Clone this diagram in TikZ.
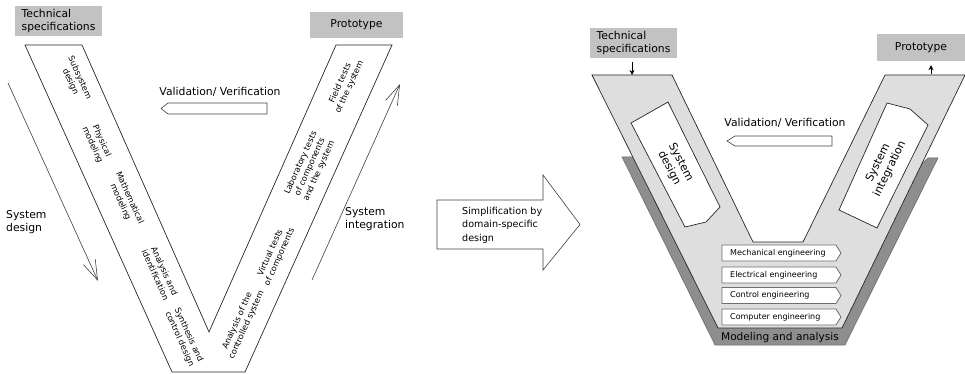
\documentclass[tikz,border=0pt]{standalone}
\usepackage{fontspec}
\setmainfont{DejaVu Sans}
\usetikzlibrary{arrows.meta,calc}
\definecolor{boxgray}{HTML}{C2C2C2}
\definecolor{vlight}{HTML}{DEDEDE}
\definecolor{vdark}{HTML}{8E8E8E}
\definecolor{tagline}{HTML}{6E6E6E}

% one engineering tag: pentagon pointing right, text inside
% #1 name, #2 vertical centre, #3 text
\newcommand\engtag[3]{%
  \draw[tagshape] (722,#2-8) -- (836,#2-8) -- (841,#2) -- (836,#2+8) -- (722,#2+8) -- cycle;
  \node[tagtext] (#1) at (730,#2) {#3};
}

\begin{document}
\begin{tikzpicture}[x=1pt,y=-1pt,
  outline/.style={draw=black!85, line width=0.7pt, line join=miter},
  inputbox/.style={fill=boxgray, draw=none, inner sep=0pt, align=left,
    font=\fontsize{10.8}{12.5}\selectfont},
  heading/.style={inner sep=0pt, align=left, font=\fontsize{10.8}{12.5}\selectfont},
  steplabel/.style={inner sep=0pt, align=center, font=\fontsize{8.3}{10}\selectfont},
  flowarrow/.style={draw=black!75, line width=0.6pt,
    -{Straight Barb[length=20pt,width=13pt,line width=0.6pt]}},
  phaselabel/.style={inner sep=0pt, align=center, font=\fontsize{11}{13}\selectfont},
  tagshape/.style={draw=tagline, fill=white, line width=0.8pt},
  tagtext/.style={inner sep=0pt, anchor=west, font=\fontsize{8}{9}\selectfont},
  feed/.style={line width=0.8pt, -{Stealth[length=5pt,width=5pt]}},
  vvarrow/.style={draw=black!75, fill=white, line width=0.6pt},
]
\useasboundingbox (0,0) rectangle (965,374);

% ---------------- classic V-model ----------------
\node[inputbox, minimum width=87pt, minimum height=30pt] (spec1) at (58.5,21)
  {Technical\\specifications};
\node[inputbox, minimum width=93pt, minimum height=26pt] (proto1) at (356.5,25)
  {Prototype};

\draw[outline] (25,45) -- (82,45) -- (209,332) -- (336,45) -- (392,45)
  -- (245,372) -- (172,372) -- cycle;

% steps along the left arm
\node[steplabel, rotate=-65.8] (s1) at (75,80)   {Subsystem\\design};
\node[steplabel, rotate=-65.8] (s2) at (97,143)  {Physical\\modeling};
\node[steplabel, rotate=-65.8] (s3) at (125,200) {Mathematical\\modeling};
\node[steplabel, rotate=-65.8] (s4) at (160,273) {Analysis and\\identification};
\node[steplabel, rotate=-65.8] (s5) at (184,337) {Synthesis and\\control design};
% steps along the right arm
\node[steplabel, rotate=65.8] (t1) at (242,323) {Analysis of the\\controlled system};
\node[steplabel, rotate=65.8] (t2) at (275,255) {Virtual tests\\of components};
\node[steplabel, rotate=65.8] (t3) at (310,167) {Laboratory tests\\of components\\and the system};
\node[steplabel, rotate=65.8] (t4) at (345,85)  {Field tests\\of the system};

% validation arrow
\node[heading] (val1) at (220,92) {Validation/ Verification};
\draw[vvarrow] (267,103) -- (168,103) -- (161,108.5) -- (168,114) -- (267,114) -- cycle;

% design / integration directions
\coordinate (sdA) at (8,83);
\coordinate (sdB) at (98,281);
\draw[flowarrow] (sdA) -- (sdB);
\node[heading, anchor=west] (sd) at (6,222) {System\\design};
\coordinate (siA) at (312,280);
\coordinate (siB) at (400,84);
\draw[flowarrow] (siA) -- (siB);
\node[heading, anchor=west] (si) at (345,219) {System\\integration};

% ---------------- simplification arrow ----------------
\draw[vvarrow] (437,200) -- (543,200) -- (543,175) -- (580,224.5) -- (543,270)
  -- (543,249) -- (437,249) -- cycle;
\node[inner sep=0pt, anchor=west, align=left, font=\fontsize{9.6}{13.5}\selectfont]
  (simp) at (462,225) {Simplification by\\domain-specific\\design};

% ---------------- domain-specific V-model ----------------
\node[inputbox, minimum width=87pt, minimum height=30pt] (spec2) at (633.5,43)
  {Technical\\specifications};
\node[inputbox, minimum width=88pt, minimum height=27pt] (proto2) at (921,47.5)
  {Prototype};

% modeling and analysis underlay
\draw[fill=vdark, draw=black!60, line width=0.5pt]
  (622,157) -- (715,345) -- (845,345) -- (938,158) -- (928,158)
  -- (780,290) -- (650,157) -- cycle;
\node[font=\fontsize{10.6}{12}\selectfont, inner sep=0pt] (mod) at (780,337.5)
  {Modeling and analysis};

% V band
\draw[outline, fill=vlight] (592,75) -- (672,75) -- (753,242) -- (803,242)
  -- (885,75) -- (965,75) -- (842,328) -- (718,328) -- cycle;

% inputs and outputs
\coordinate (specin) at (632,75);
\draw[feed] ($(spec2.south -| specin)+(0,4)$) -- (specin);
\coordinate (protoout) at (931,75);
\draw[feed] ($(protoout)+(0,-1)$) -- ($(proto2.south -| protoout)+(0,4)$);

% phase boxes
\draw[outline, fill=white] (631,123) -- (668,102) -- (720,207) -- (706,222)
  -- (685,227) -- cycle;
\node[phaselabel, rotate=-62.6] (phd) at (675,165) {System\\design};
\draw[outline, fill=white] (887,103) -- (910,109) -- (928,125) -- (877,228)
  -- (839,210) -- cycle;
\node[phaselabel, rotate=64] (phi) at (884,166) {System\\integration};

% validation arrow
\node[heading] (val2) at (785,123) {Validation/ Verification};
\draw[vvarrow] (832,136) -- (735,136) -- (727,141) -- (735,146) -- (832,146) -- cycle;

% engineering domains
\engtag{mech}{253}{Mechanical engineering}
\engtag{elec}{275}{Electrical engineering}
\engtag{ctrl}{295.5}{Control engineering}
\engtag{comp}{317}{Computer engineering}
\end{tikzpicture}
\end{document}
